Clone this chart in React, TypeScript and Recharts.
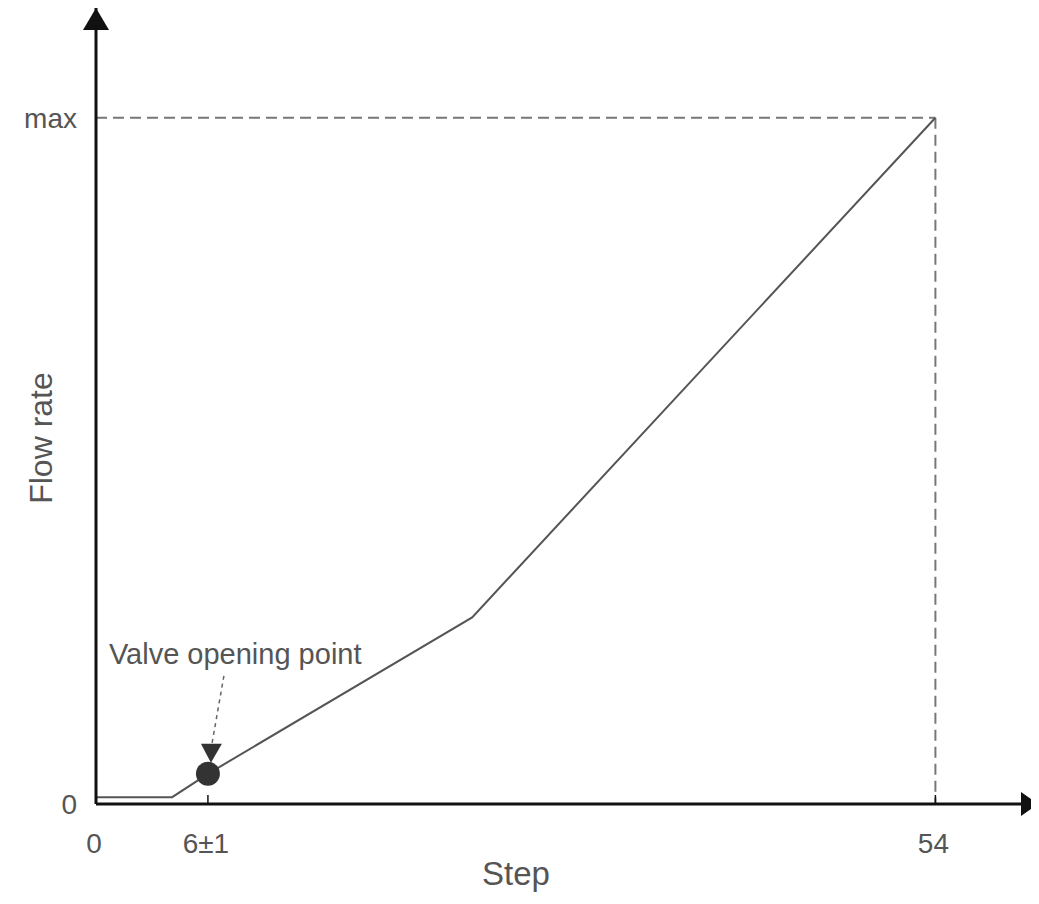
import React from 'react';
import { LineChart, Line, XAxis, YAxis, ReferenceLine, ReferenceDot } from 'recharts';

// points of the curve (step -> flow rate, max = 100)
const steps = [0, 4.9, 7.2, 24.2, 54];
const flowRates = [1, 1, 4.4, 27.2, 100];

const xTickValues = [0, 7.2, 54];
const xTickLabels = ['0', '6±1', '54'];
const yTickValues = [0, 100];
const yTickLabels = ['0', 'max'];

const valveStep = 7.2;
const valveFlow = 4.4;
const maxStep = 54;
const maxFlow = 100;
const xEnd = 60.6;
const yEnd = 116;

const data = steps.map((step, i) => ({ step, flow: flowRates[i] }));

const FONT = '"Liberation Sans", Arial, sans-serif';
const TEXT = '#555';
const AXIS = '#111';

const XTick = (props: any) => {
  const { x, y, payload } = props;
  const label = xTickLabels[xTickValues.indexOf(payload.value)];
  return (
    <g>
      <line x1={x} y1={y - 9} x2={x} y2={y} stroke={AXIS} strokeWidth={1.5} />
      <text x={x - 2} y={y + 49} textAnchor="middle" fontSize={28} fill={TEXT} fontFamily={FONT}>
        {label}
      </text>
    </g>
  );
};

const YTick = (props: any) => {
  const { x, y, payload } = props;
  const label = yTickLabels[yTickValues.indexOf(payload.value)];
  return (
    <text x={x - 19} y={y} dy="0.35em" textAnchor="end" fontSize={28} fill={TEXT} fontFamily={FONT}>
      {label}
    </text>
  );
};

const ValveMarker = (props: any) => {
  const { cx, cy } = props;
  return (
    <g>
      <text x={cx - 99} y={cy - 110} fontSize={29} fill={TEXT} fontFamily={FONT}>
        Valve opening point
      </text>
      <line x1={cx + 16} y1={cy - 98} x2={cx + 4} y2={cy - 30} stroke="#666" strokeWidth={1.5} strokeDasharray="4 4" />
      <polygon points={`${cx - 7},${cy - 30} ${cx + 14},${cy - 30} ${cx + 3},${cy - 11}`} fill="#333" />
      <circle cx={cx} cy={cy} r={12} fill="#333" />
    </g>
  );
};

const UpArrow = (props: any) => {
  const { cx, cy } = props;
  return <polygon points={`${cx},${cy} ${cx - 13},${cy + 22} ${cx + 13},${cy + 22}`} fill={AXIS} />;
};

const RightArrow = (props: any) => {
  const { cx, cy } = props;
  return <polygon points={`${cx},${cy} ${cx - 17},${cy - 12} ${cx - 17},${cy + 12}`} fill={AXIS} />;
};

const StepLabel = (props: any) => {
  const { viewBox } = props;
  return (
    <text x={viewBox.x + 420} y={viewBox.y + 81} textAnchor="middle" fontSize={33} fill={TEXT} fontFamily={FONT}>
      Step
    </text>
  );
};

const FlowLabel = (props: any) => {
  const { viewBox } = props;
  const cx = viewBox.x + 25;
  const cy = viewBox.y + viewBox.height / 2 + 32;
  return (
    <text
      x={cx}
      y={cy}
      transform={`rotate(-90, ${cx}, ${cy})`}
      textAnchor="middle"
      dominantBaseline="central"
      fontSize={32}
      fill={TEXT}
      fontFamily={FONT}
    >
      Flow rate
    </text>
  );
};

export default function App() {
  return (
    <div style={{ width: 1031, height: 888, background: '#fff' }}>
      <LineChart width={1031} height={888} data={data} margin={{ top: 0, right: 1, bottom: 0, left: 8 }}>
        <XAxis
          dataKey="step"
          type="number"
          domain={[0, xEnd]}
          ticks={xTickValues}
          tick={<XTick />}
          tickLine={false}
          tickSize={0}
          tickMargin={0}
          height={92}
          axisLine={{ stroke: AXIS, strokeWidth: 3 }}
          label={StepLabel}
        />
        <YAxis
          type="number"
          domain={[0, yEnd]}
          ticks={yTickValues}
          tick={<YTick />}
          tickLine={false}
          tickSize={0}
          tickMargin={0}
          width={80}
          axisLine={{ stroke: AXIS, strokeWidth: 3 }}
          label={FlowLabel}
        />
        <ReferenceLine
          segment={[{ x: 0, y: maxFlow }, { x: maxStep, y: maxFlow }]}
          stroke="#777"
          strokeWidth={2}
          strokeDasharray="11 6"
        />
        <ReferenceLine
          segment={[{ x: maxStep, y: maxFlow }, { x: maxStep, y: 0 }]}
          stroke="#777"
          strokeWidth={2}
          strokeDasharray="11 6"
        />
        <Line
          dataKey="flow"
          type="linear"
          stroke="#555"
          strokeWidth={2}
          dot={false}
          isAnimationActive={false}
        />
        <ReferenceDot x={valveStep} y={valveFlow} r={12} ifOverflow="visible" shape={ValveMarker} />
        <ReferenceDot x={0} y={yEnd} r={0} ifOverflow="visible" shape={UpArrow} />
        <ReferenceDot x={xEnd} y={0} r={0} ifOverflow="visible" shape={RightArrow} />
      </LineChart>
    </div>
  );
}
